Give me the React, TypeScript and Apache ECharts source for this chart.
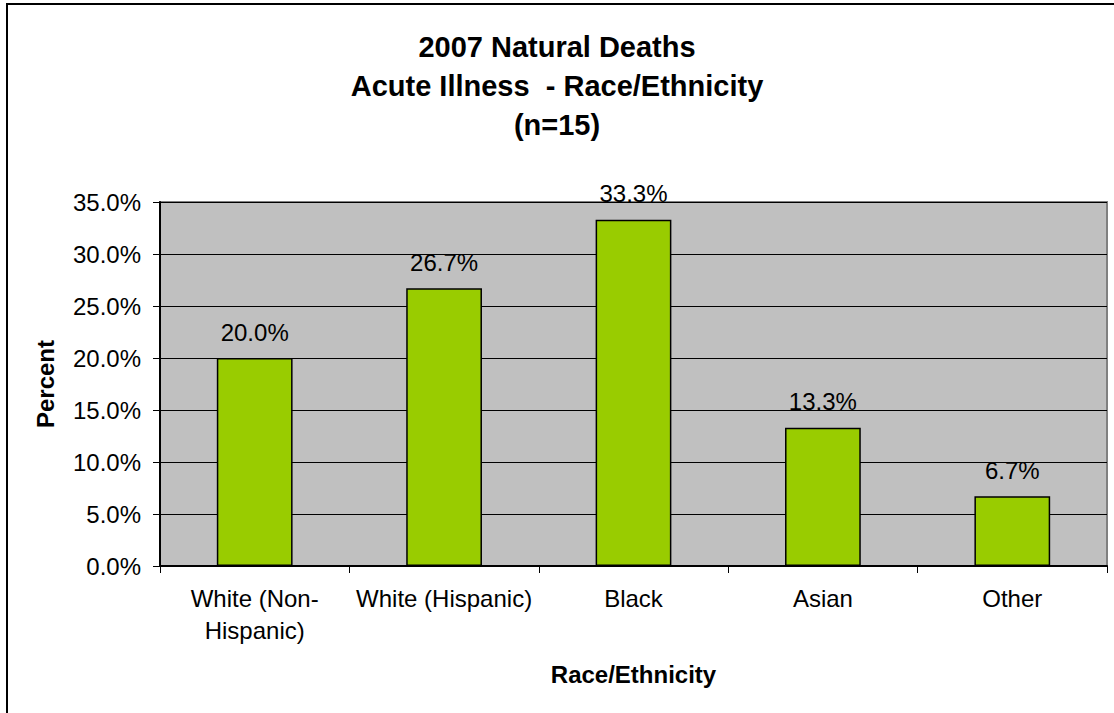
import React, { useEffect, useRef } from "react";
import * as echarts from "echarts";

const titleLines = ["2007 Natural Deaths", "Acute Illness  - Race/Ethnicity", "(n=15)"];
const categories = ["White (Non-Hispanic)", "White (Hispanic)", "Black", "Asian", "Other"];
const percentValues = [20.0, 26.7, 33.3, 13.3, 6.7];
const yTicks = { min: 0, max: 35, interval: 5 };
const xAxisName = "Race/Ethnicity";
const yAxisName = "Percent";

const FONT = "Liberation Sans, Arial, sans-serif";

export default function App() {
  const ref = useRef<HTMLDivElement>(null);
  useEffect(() => {
    if (!ref.current) return;
    const chart = echarts.init(ref.current, null, { renderer: "svg" });
    chart.setOption({
      animation: false,
      backgroundColor: "#ffffff",
      textStyle: { fontFamily: FONT },
      title: {
        text: titleLines.join("\n"),
        left: "center",
        top: 22,
        textStyle: {
          fontFamily: FONT,
          fontSize: 29,
          fontWeight: "bold",
          color: "#000",
          lineHeight: 39,
        },
      },
      graphic: [
        {
          type: "rect",
          shape: { x: 7, y: 4, width: 1200, height: 800 },
          style: { fill: "none", stroke: "#000", lineWidth: 2 },
          z: 100,
        },
      ],
      grid: { left: 160, top: 202, right: 7, bottom: 147, show: true, backgroundColor: "#C0C0C0", borderColor: "#808080", borderWidth: 2 },
      xAxis: {
        type: "category",
        data: categories,
        name: xAxisName,
        nameLocation: "middle",
        nameGap: 96,
        nameTextStyle: { fontFamily: FONT, fontSize: 24, fontWeight: "bold", color: "#000" },
        axisLine: { lineStyle: { color: "#000", width: 2 } },
        axisTick: { show: true, length: 7, lineStyle: { color: "#000" } },
        axisLabel: {
          fontFamily: FONT,
          fontSize: 24,
          color: "#000",
          margin: 16,
          lineHeight: 32,
          interval: 0,
          formatter: (v: string) => v.replace("Non-Hispanic", "Non-\nHispanic"),
        },
      },
      yAxis: {
        type: "value",
        min: yTicks.min,
        max: yTicks.max,
        interval: yTicks.interval,
        name: yAxisName,
        nameLocation: "middle",
        nameGap: 103,
        nameRotate: 90,
        nameTextStyle: { fontFamily: FONT, fontSize: 24, fontWeight: "bold", color: "#000" },
        axisLine: { show: true, lineStyle: { color: "#000", width: 2 } },
        axisTick: { show: true, length: 7, lineStyle: { color: "#000" } },
        splitLine: { show: true, lineStyle: { color: "#000", width: 1 } },
        axisLabel: {
          fontFamily: FONT,
          fontSize: 24,
          color: "#000",
          margin: 19,
          formatter: (v: number) => v.toFixed(1) + "%",
        },
      },
      series: [
        {
          type: "bar",
          data: percentValues,
          barWidth: "40%",
          itemStyle: { color: "#99CC00", borderColor: "#000", borderWidth: 1.5 },
          label: {
            show: true,
            position: "top",
            distance: 14,
            fontFamily: FONT,
            fontSize: 24,
            color: "#000",
            formatter: (p: any) => Number(p.value).toFixed(1) + "%",
          },
        },
      ],
    });
    return () => chart.dispose();
  }, []);
  return <div ref={ref} style={{ position: "fixed", left: 0, top: 0, width: 1114, height: 713 }} />;
}
